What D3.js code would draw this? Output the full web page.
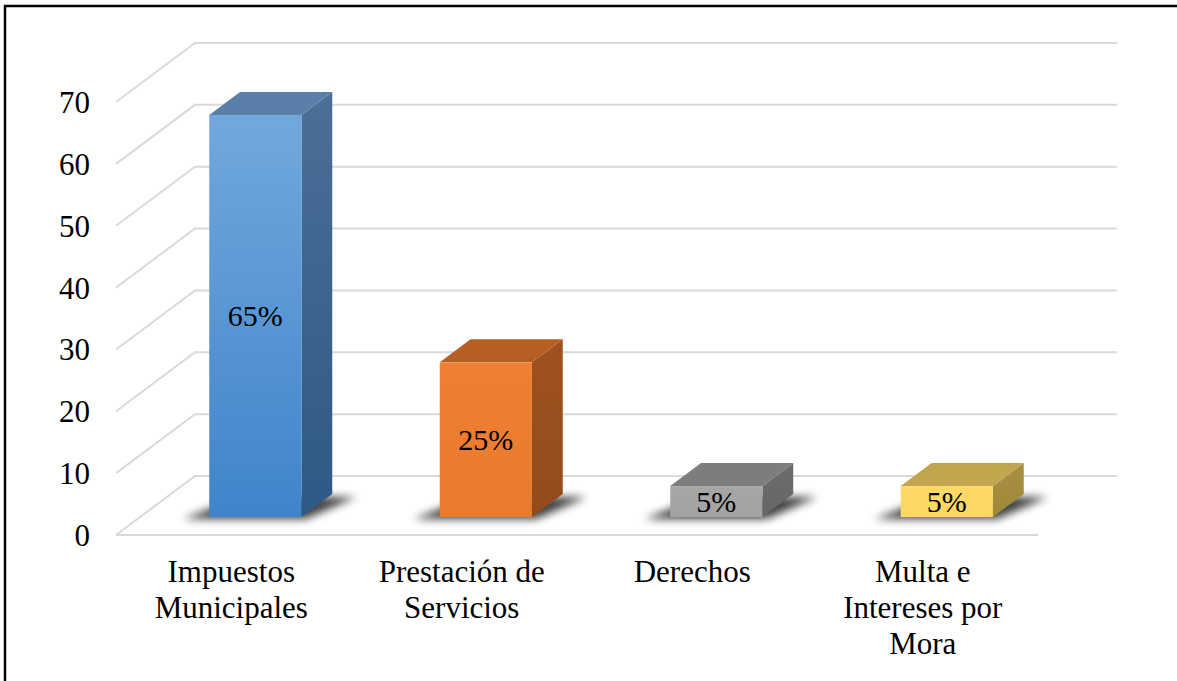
<!DOCTYPE html>
<html>
<head>
<meta charset="utf-8">
<script src="https://cdn.jsdelivr.net/npm/d3@7/dist/d3.min.js"></script>
<style>
  html, body { margin: 0; padding: 0; background: #fff; }
  svg { display: block; }
  svg text { font-family: "Liberation Serif", "Tinos", "Times New Roman", Times, "Noto Serif", "DejaVu Serif", serif !important; fill: #000; }
</style>
</head>
<body>
<svg id="chart" width="1177" height="681"></svg>
<script>
// ---- data ----
const categories = ["Impuestos Municipales", "Prestación de Servicios", "Derechos", "Multa e Intereses por Mora"];
const categoryLines = [["Impuestos", "Municipales"], ["Prestación de", "Servicios"], ["Derechos"], ["Multa e", "Intereses por", "Mora"]];
const values = [65, 25, 5, 5];
const valueLabels = ["65%", "25%", "5%", "5%"];
const yTicks = [0, 10, 20, 30, 40, 50, 60, 70];
const frontTop = ["#72a8de", "#ee7f33", "#a6a6a6", "#ffd966"];
const frontBottom = ["#3f84ca", "#ea7a2c", "#a3a3a3", "#fdd762"];
const topColors = ["#5a7fa9", "#b65f22", "#7d7d7d", "#c1a54f"];
const sideTop = ["#4b6f97", "#9e521f", "#6c6c6c", "#a88f41"];
const sideBottom = ["#2d5984", "#944b1c", "#666666", "#a08839"];

// ---- layout ----
const W = 1177, H = 681;
const FONT = '"Liberation Serif", "Tinos", "Times New Roman", Times, "Noto Serif", "DejaVu Serif", serif';
const svg = d3.select("#chart");
const defs = svg.append("defs");

const floorLeft = 116, floorRight = 1038, floorY = 535, topY = 102;
const depth = [79, -59];          // floor depth vector (front -> back)
const d0 = 0.305, d1 = 0.695;     // bar depth range as fraction of floor depth

const x = d3.scaleBand().domain(categories).range([floorLeft, floorRight]).paddingInner(0).paddingOuter(0);
const y = d3.scaleLinear().domain([0, 70]).range([floorY, topY]);
const barFrac = 0.4;

// border
svg.append("rect").attr("x", 5).attr("y", 6).attr("width", W + 10).attr("height", H + 10)
  .attr("fill", "none").attr("stroke", "#000").attr("stroke-width", 2.5);

// gridlines (3D: diagonal wall + back wall)
const grid = svg.append("g");
yTicks.forEach(t => {
  const yy = y(t);
  grid.append("path")
    .attr("d", `M${floorLeft},${yy}L${floorLeft + depth[0]},${yy + depth[1]}L${floorRight + depth[0]},${yy + depth[1]}`)
    .attr("fill", "none").attr("stroke", "#d9d9d9").attr("stroke-width", 2);
});
// floor front edge
grid.append("path").attr("d", `M${floorLeft},${floorY}L${floorRight},${floorY}`)
  .attr("fill", "none").attr("stroke", "#d9d9d9").attr("stroke-width", 2);

// y axis labels
const yAxis = d3.axisLeft(y).tickValues(yTicks).tickSize(0).tickPadding(26);
const gy = svg.append("g").attr("transform", `translate(${floorLeft},0)`).call(yAxis)
  .attr("font-family", FONT);
gy.select(".domain").remove();
gy.selectAll("text").attr("font-family", FONT)
  .attr("font-size", 31).attr("fill", "#000").attr("dy", "0.34em");

// shadow filter
const filt = defs.append("filter").attr("id", "shadow").attr("x", "-50%").attr("y", "-50%").attr("width", "200%").attr("height", "200%");
filt.append("feGaussianBlur").attr("stdDeviation", 4);

// bars
const bars = svg.append("g");
categories.forEach((c, i) => {
  const bw = x.bandwidth() * barFrac;
  const cx = x(c) + x.bandwidth() / 2;
  const fx0 = cx - bw / 2 + depth[0] * d0;
  const fx1 = cx + bw / 2 + depth[0] * d0;
  const base = y(0) + depth[1] * d0;
  const topF = y(values[i]) + depth[1] * d0;
  const ddx = depth[0] * (d1 - d0), ddy = depth[1] * (d1 - d0);

  const gF = defs.append("linearGradient").attr("id", "gf" + i).attr("x1", 0).attr("y1", 0).attr("x2", 0).attr("y2", 1);
  gF.append("stop").attr("offset", "0%").attr("stop-color", frontTop[i]);
  gF.append("stop").attr("offset", "100%").attr("stop-color", frontBottom[i]);
  const gS = defs.append("linearGradient").attr("id", "gs" + i).attr("x1", 0).attr("y1", 0).attr("x2", 0).attr("y2", 1);
  gS.append("stop").attr("offset", "0%").attr("stop-color", sideTop[i]);
  gS.append("stop").attr("offset", "100%").attr("stop-color", sideBottom[i]);

  bars.append("path")
    .attr("d", `M${fx0 - 26},${base + 2}L${fx1 + 4},${base + 2}L${fx1 + ddx + 24},${base + ddy + 3}L${fx0 + ddx},${base + ddy + 3}Z`)
    .attr("fill", "#000").attr("opacity", 0.75).attr("filter", "url(#shadow)");

  bars.append("path")
    .attr("d", `M${fx1},${topF}L${fx1 + ddx},${topF + ddy}L${fx1 + ddx},${base + ddy}L${fx1},${base}Z`)
    .attr("fill", `url(#gs${i})`);
  bars.append("path")
    .attr("d", `M${fx0},${topF}L${fx1},${topF}L${fx1 + ddx},${topF + ddy}L${fx0 + ddx},${topF + ddy}Z`)
    .attr("fill", topColors[i]);
  bars.append("rect")
    .attr("x", fx0).attr("y", topF).attr("width", fx1 - fx0).attr("height", base - topF)
    .attr("fill", `url(#gf${i})`);

  svg.append("text")
    .attr("x", (fx0 + fx1) / 2).attr("y", (topF + base) / 2).attr("dy", "0.35em")
    .attr("text-anchor", "middle").attr("font-size", 30).attr("font-family", FONT)
    .text(valueLabels[i]);
});

// category labels
categories.forEach((c, i) => {
  const cx = x(c) + x.bandwidth() / 2;
  const t = svg.append("text").attr("text-anchor", "middle").attr("font-size", 31).attr("font-family", FONT)
    .attr("x", cx).attr("y", floorY + 47);
  categoryLines[i].forEach((ln, k) => {
    t.append("tspan").attr("x", cx).attr("dy", k === 0 ? 0 : 36).text(ln);
  });
});
</script>
</body>
</html>
